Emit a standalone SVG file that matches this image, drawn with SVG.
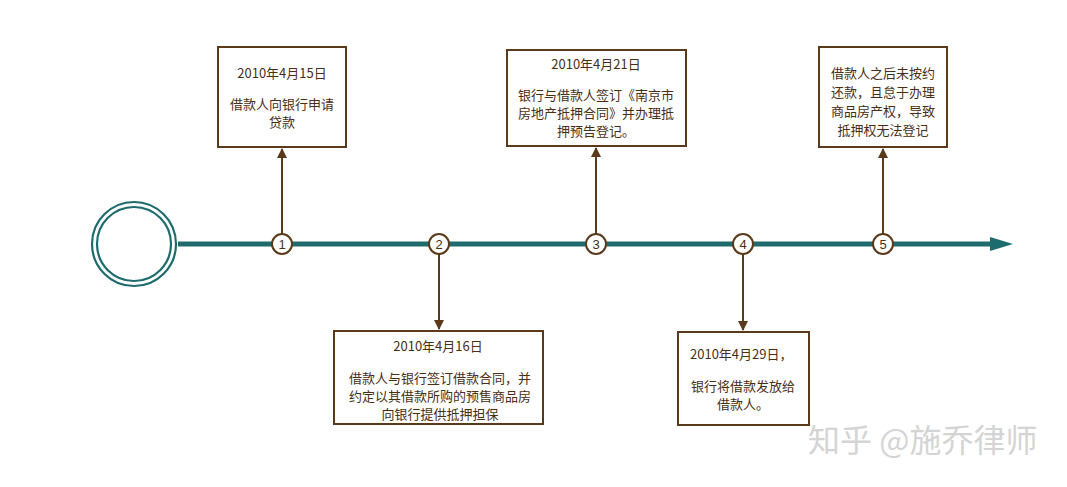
<svg xmlns="http://www.w3.org/2000/svg" width="1067" height="487" viewBox="0 0 1067 487">
<defs>
<style>
.box{fill:#fff;stroke:#5a3a1a;stroke-width:2}
.t{font-family:"Noto Sans CJK SC","Liberation Sans",sans-serif;font-size:13px;fill:#4a2e14;text-anchor:middle}
.tl{font-family:"Noto Sans CJK SC","Liberation Sans",sans-serif;font-size:13px;fill:#4a2e14}
.n{fill:#fff;stroke:#5a3a1a;stroke-width:2}
.nt{font-family:"Liberation Sans",Arial,sans-serif;font-size:13px;fill:#4a2e14;text-anchor:middle}
.c{stroke:#5a3a1a;stroke-width:2;fill:none}
</style>
<marker id="ah" viewBox="0 0 10 10" refX="9" refY="5" markerWidth="5" markerHeight="5" orient="auto" markerUnits="strokeWidth">
<path d="M0,0 L10,5 L0,10 z" fill="#5a3a1a"/>
</marker>
</defs>
<rect width="1067" height="487" fill="#fff"/>
<g id="start">
<circle cx="134" cy="244" r="42" fill="#fff" stroke="#1e6b6e" stroke-width="2.2"/>
<circle cx="134" cy="244" r="37" fill="none" stroke="#1e6b6e" stroke-width="2.2"/>
</g>
<g id="connectors">
<line x1="178" y1="244" x2="994" y2="244" stroke="#1e6b6e" stroke-width="5"/>
<path d="M990,237 L1013,244 L990,251 z" fill="#1e6b6e"/>
<line class="c" x1="282" y1="234" x2="282" y2="149" marker-end="url(#ah)"/>
<line class="c" x1="439" y1="254" x2="439" y2="329" marker-end="url(#ah)"/>
<line class="c" x1="596" y1="234" x2="596" y2="148" marker-end="url(#ah)"/>
<line class="c" x1="743" y1="254" x2="743" y2="330" marker-end="url(#ah)"/>
<line class="c" x1="883" y1="234" x2="883" y2="149" marker-end="url(#ah)"/>
</g>
<g id="m1"><circle class="n" cx="282" cy="244" r="10"/><text class="nt" x="282" y="249">1</text></g>
<g id="m2"><circle class="n" cx="439" cy="244" r="10"/><text class="nt" x="439" y="249">2</text></g>
<g id="m3"><circle class="n" cx="596" cy="244" r="10"/><text class="nt" x="596" y="249">3</text></g>
<g id="m4"><circle class="n" cx="743" cy="244" r="10"/><text class="nt" x="743" y="249">4</text></g>
<g id="m5"><circle class="n" cx="883" cy="244" r="10"/><text class="nt" x="883" y="249">5</text></g>
<g id="box1">
<rect class="box" x="218" y="47" width="128" height="100"/>
<text class="t" x="282" y="78">2010年4月15日</text>
<text class="t" x="282" y="109">借款人向银行申请</text>
<text class="t" x="282" y="127">贷款</text>
</g>
<g id="box3">
<rect class="box" x="507" y="50" width="179" height="96"/>
<text class="t" x="596" y="69">2010年4月21日</text>
<text class="t" x="596" y="100">银行与借款人签订《南京市</text>
<text class="t" x="596" y="118">房地产抵押合同》并办理抵</text>
<text class="t" x="596" y="136">押预告登记。</text>
</g>
<g id="box5">
<rect class="box" x="819" y="47" width="128" height="100"/>
<text class="t" x="883" y="78">借款人之后未按约</text>
<text class="t" x="883" y="97">还款，且怠于办理</text>
<text class="t" x="883" y="116">商品房产权，导致</text>
<text class="t" x="883" y="135">抵押权无法登记</text>
</g>
<g id="box2">
<rect class="box" x="334" y="331" width="209" height="93"/>
<text class="t" x="438" y="351">2010年4月16日</text>
<text class="t" x="440" y="383">借款人与银行签订借款合同，并</text>
<text class="t" x="440" y="401">约定以其借款所购的预售商品房</text>
<text class="t" x="440" y="419">向银行提供抵押担保</text>
</g>
<g id="box4">
<rect class="box" x="678" y="332" width="131" height="93"/>
<text class="tl" x="690" y="359">2010年4月29日，</text>
<text class="tl" x="691" y="391">银行将借款发放给</text>
<text class="tl" x="717" y="409">借款人。</text>
</g>
<text x="808" y="452" font-family="Noto Sans CJK SC,sans-serif" font-size="32" fill="#d4d4d4">知乎 @施乔律师</text>
</svg>
